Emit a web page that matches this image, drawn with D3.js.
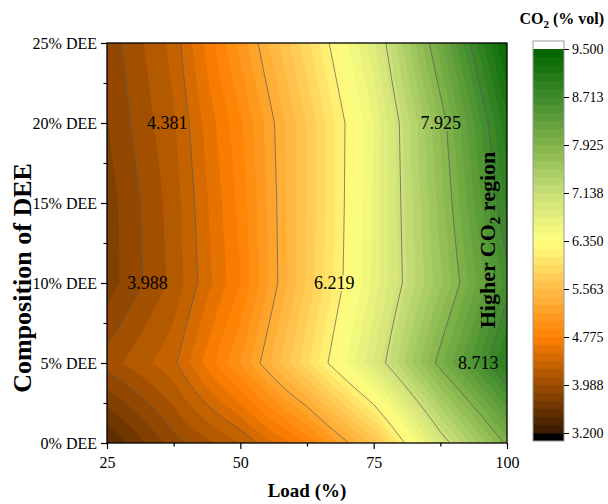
<!DOCTYPE html>
<html>
<head>
<meta charset="utf-8">
<script src="https://cdn.jsdelivr.net/npm/d3@7"></script>
<style>
body { margin: 0; background: #fff; }
text { font-family: "Liberation Serif", "Times New Roman", serif; fill: #000; }
</style>
</head>
<body>
<div id="chart"></div>
<script>
// data: CO2 (% vol) at each load / DEE share
var loads = [25, 37.5, 50, 62.5, 75, 87.5, 100];
var dee = [0, 5, 10, 15, 20, 25];
var deeLabels = ["0% DEE", "5% DEE", "10% DEE", "15% DEE", "20% DEE", "25% DEE"];
var co2 = [
    [3.45, 3.93, 4.245, 4.78, 5.61, 6.92, 7.98],    // 0%
    [4.05, 4.344, 5.04, 5.92, 6.87, 8.01, 9.0],     // 5%
    [3.785, 4.16, 4.767, 5.716, 6.648, 7.63, 8.64], // 10%
    [3.79, 4.18, 4.817, 5.70, 6.626, 7.72, 8.89],   // 15%
    [3.85, 4.23, 4.88, 5.70, 6.61, 7.81, 9.07],     // 20%
    [3.90, 4.296, 5.078, 5.913, 6.832, 8.14, 9.42]  // 25%
];
var xTicks = [25, 50, 75, 100];
var barTicks = [3.2, 3.9875, 4.775, 5.5625, 6.35, 7.1375, 7.925, 8.7125, 9.5];
var barTickLabels = ["3.200", "3.988", "4.775", "5.563", "6.350", "7.138", "7.925", "8.713", "9.500"];
var lineLevels = [3.988, 4.381, 5.3, 6.219, 7.072, 7.925, 8.713];
var contourLabels = ["4.381", "3.988", "6.219", "7.925", "8.713"];
var contourLabelLoad = [36.3, 32.6, 67.6, 87.6, 94.6];
var contourLabelDee = [20, 10, 10, 20, 5];
var colorStops = ["#351a00", "#9a4c00", "#ff8000", "#ffbd48", "#ffff80", "#c9df78", "#82b44b", "#3f8b2c", "#006400"];

var width = 608, height = 504;
var pLeft = 107, pRight = 507, pTop = 43, pBottom = 443;
var step = (9.5 - 3.2) / 48;

var svg = d3.select("#chart").append("svg")
    .attr("width", width)
    .attr("height", height);

var x = d3.scaleLinear().domain([25, 100]).range([pLeft, pRight]);
var y = d3.scaleLinear().domain([0, 25]).range([pBottom, pTop]);
var color = d3.scaleLinear().domain(barTicks).range(colorStops).interpolate(d3.interpolateRgb);

function co2At(load, d) {
    load = Math.max(25, Math.min(100, load));
    d = Math.max(0, Math.min(25, d));
    var c = Math.min(d3.bisectRight(loads, load) - 1, loads.length - 2);
    var r = Math.min(d3.bisectRight(dee, d) - 1, dee.length - 2);
    var tx = (load - loads[c]) / (loads[c + 1] - loads[c]);
    var ty = (d - dee[r]) / (dee[r + 1] - dee[r]);
    return (1 - ty) * ((1 - tx) * co2[r][c] + tx * co2[r][c + 1]) +
        ty * ((1 - tx) * co2[r + 1][c] + tx * co2[r + 1][c + 1]);
}

// sample the field every 2px, a bit past the frame
var nx = 206, ny = 206, x0 = pLeft - 4, y0 = pTop - 4;
var values = new Array(nx * ny);
for (var j = 0; j < ny; j++) {
    for (var i = 0; i < nx; i++) {
        values[j * nx + i] = co2At(x.invert(x0 + 2 * i), y.invert(y0 + 2 * j));
    }
}
var path = d3.geoPath(d3.geoIdentity().scale(2).translate([x0 - 1, y0 - 1]));

svg.append("clipPath").attr("id", "plotclip")
    .append("rect").attr("x", pLeft).attr("y", pTop)
    .attr("width", pRight - pLeft).attr("height", pBottom - pTop);

var levels = d3.range(48).map(function(k) { return 3.2 + k * step; });
var fills = d3.contours().size([nx, ny]).thresholds(levels)(values);

var plot = svg.append("g").attr("clip-path", "url(#plotclip)");
plot.selectAll("path.band")
    .data(fills)
    .enter().append("path")
    .attr("class", "band")
    .attr("d", path)
    .attr("fill", function(d) { return color(d.value + step / 2); })
    .attr("stroke", function(d) { return color(d.value + step / 2); })
    .attr("stroke-width", 0.3);

// contour labels first, so lines can be masked under them
var labelG = svg.append("g");
var lab = labelG.selectAll("text")
    .data(contourLabels)
    .enter().append("text")
    .attr("x", function(d, i) { return x(contourLabelLoad[i]); })
    .attr("y", function(d, i) { return y(contourLabelDee[i]); })
    .attr("dy", "0.35em")
    .attr("text-anchor", "middle")
    .style("font-size", "18px")
    .text(function(d) { return d; });

var mask = svg.append("mask").attr("id", "linemask");
mask.append("rect").attr("width", width).attr("height", height).attr("fill", "#fff");
lab.each(function() {
    var b = this.getBBox();
    mask.append("rect").attr("x", b.x - 1).attr("y", b.y + 2)
        .attr("width", b.width + 2).attr("height", b.height - 4).attr("fill", "#000");
});

var lines = d3.contours().size([nx, ny]).thresholds(lineLevels)(values);
plot.append("g").attr("mask", "url(#linemask)")
    .selectAll("path")
    .data(lines)
    .enter().append("path")
    .attr("d", path)
    .attr("fill", "none")
    .attr("stroke", "#5a5a5a")
    .attr("stroke-width", 0.7);

labelG.raise();

// frame + axes
svg.append("rect")
    .attr("x", pLeft).attr("y", pTop)
    .attr("width", pRight - pLeft).attr("height", pBottom - pTop)
    .attr("fill", "none").attr("stroke", "#000").attr("stroke-width", 1.3);

svg.append("g").attr("transform", "translate(0," + pBottom + ")")
    .call(d3.axisBottom(x).tickValues(xTicks).tickSize(6).tickPadding(8).tickFormat(d3.format("d")));
svg.append("g").attr("transform", "translate(0," + pBottom + ")")
    .call(d3.axisBottom(x).tickValues([37.5, 62.5, 87.5]).tickSize(3.5).tickFormat(""));
svg.append("g").attr("transform", "translate(" + pLeft + ",0)")
    .call(d3.axisLeft(y).tickValues(dee).tickSize(6).tickPadding(4)
        .tickFormat(function(d, i) { return deeLabels[i]; }));
svg.append("g").attr("transform", "translate(" + pLeft + ",0)")
    .call(d3.axisLeft(y).tickValues([2.5, 7.5, 12.5, 17.5, 22.5]).tickSize(3.5).tickFormat(""));

svg.selectAll(".domain").remove();
svg.selectAll(".tick line").attr("stroke", "#000").attr("stroke-width", 1.2);
svg.selectAll(".tick text")
    .style("font-family", '"Liberation Serif", "Times New Roman", serif')
    .style("font-size", "16px").attr("fill", "#000");

svg.append("text")
    .attr("x", (pLeft + pRight) / 2).attr("y", 497)
    .attr("text-anchor", "middle")
    .style("font-size", "19px").style("font-weight", "bold")
    .text("Load (%)");

svg.append("text")
    .attr("transform", "translate(31,278) rotate(-90)")
    .attr("text-anchor", "middle")
    .style("font-size", "26px").style("font-weight", "bold")
    .text("Composition of DEE");

var hi = svg.append("text")
    .attr("transform", "translate(495,240) rotate(-90)")
    .attr("text-anchor", "middle")
    .style("font-size", "22px").style("font-weight", "bold");
hi.append("tspan").text("Higher CO");
hi.append("tspan").attr("dy", 5).style("font-size", "15px").text("2");
hi.append("tspan").attr("dy", -5).text(" region");

// colour bar
var bx = 533, bw = 31;
var by = d3.scaleLinear().domain([3.2, 9.5]).range([433, 49]);
var bar = svg.append("g");
bar.append("rect").attr("x", bx).attr("y", 41).attr("width", bw).attr("height", 8).attr("fill", "#fff");
bar.append("rect").attr("x", bx).attr("y", 433).attr("width", bw).attr("height", 8).attr("fill", "#000");
bar.selectAll("rect.lv")
    .data(levels)
    .enter().append("rect")
    .attr("class", "lv")
    .attr("x", bx)
    .attr("y", function(d) { return by(d + step); })
    .attr("width", bw)
    .attr("height", function(d) { return by(d) - by(d + step) + 0.4; })
    .attr("fill", function(d) { return color(d + step / 2); });
bar.append("rect").attr("x", bx).attr("y", 41).attr("width", bw).attr("height", 400)
    .attr("fill", "none").attr("stroke", "#999").attr("stroke-width", 1);

var barAxis = svg.append("g").attr("transform", "translate(" + (bx + bw) + ",0)")
    .call(d3.axisRight(by).tickValues(barTicks).tickSize(5).tickPadding(3)
        .tickFormat(function(d, i) { return barTickLabels[i]; }));
barAxis.select(".domain").remove();
barAxis.selectAll(".tick line").attr("stroke", "#000").attr("stroke-width", 1);
barAxis.selectAll(".tick text")
    .style("font-family", '"Liberation Serif", "Times New Roman", serif')
    .style("font-size", "14px").attr("fill", "#000");

var ttl = svg.append("text")
    .attr("x", 604).attr("y", 24)
    .attr("text-anchor", "end")
    .style("font-size", "16px").style("font-weight", "bold");
ttl.append("tspan").text("CO");
ttl.append("tspan").attr("dy", 4).style("font-size", "11px").text("2");
ttl.append("tspan").attr("dy", -4).text(" (% vol)");
</script>
</body>
</html>
